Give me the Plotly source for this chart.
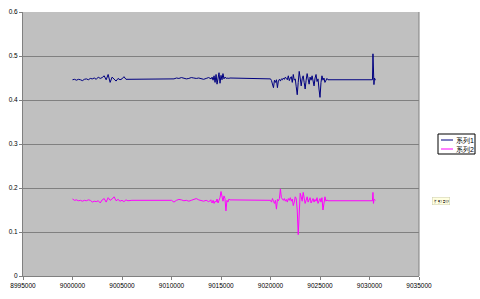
import plotly.graph_objects as go

# Series 1 (系列1)
x1 = ([9000000 + 200 * i for i in range(29)] + [9006000, 9010000]
      + [9010000 + 250 * i for i in range(1, 17)]
      + [9014000 + 100 * i for i in range(20)] + [9020000 - 100]
      + [9020000 + 100 * i for i in range(60)]
      + [9030300, 9030350, 9030400, 9030450, 9030500, 9030600])
y1 = ([0.446, 0.447, 0.445, 0.447, 0.446, 0.444, 0.447, 0.448, 0.446, 0.449,
       0.448, 0.450, 0.447, 0.452, 0.449, 0.451, 0.455, 0.446, 0.458, 0.440,
       0.452, 0.447, 0.443, 0.449, 0.446, 0.448, 0.453, 0.447, 0.447]
      + [0.447, 0.447]
      + [0.448, 0.450, 0.449, 0.451, 0.450, 0.448, 0.449, 0.451, 0.450, 0.449,
         0.450, 0.448, 0.447, 0.449, 0.451, 0.448]
      + [0.448, 0.452, 0.445, 0.455, 0.440, 0.458, 0.436, 0.450, 0.462, 0.438,
         0.456, 0.446, 0.460, 0.448, 0.452, 0.450, 0.449, 0.450, 0.449, 0.450]
      + [0.449]
      + [0.448, 0.444, 0.438, 0.428, 0.445, 0.440, 0.446, 0.428, 0.444, 0.447,
         0.443, 0.448, 0.446, 0.450, 0.447, 0.452, 0.449, 0.446, 0.455, 0.444,
         0.450, 0.453, 0.440, 0.458, 0.445, 0.448, 0.430, 0.412, 0.440, 0.465,
         0.450, 0.432, 0.448, 0.455, 0.440, 0.425, 0.445, 0.460, 0.448, 0.436,
         0.452, 0.445, 0.455, 0.440, 0.432, 0.450, 0.458, 0.442, 0.448, 0.425,
         0.406, 0.440, 0.455, 0.445, 0.450, 0.440, 0.447, 0.449, 0.446, 0.446]
      + [0.446, 0.505, 0.440, 0.435, 0.450, 0.445])

# Series 2 (系列2)
x2 = ([9000000 + 200 * i for i in range(31)] + [9010000]
      + [9010000 + 250 * i for i in range(1, 17)]
      + [9014000 + 100 * i for i in range(20)] + [9020000 - 100]
      + [9020000 + 100 * i for i in range(60)]
      + [9030300, 9030350, 9030400, 9030450, 9030500, 9030600])
y2 = ([0.175, 0.172, 0.173, 0.171, 0.172, 0.170, 0.172, 0.171, 0.173, 0.172,
       0.168, 0.170, 0.169, 0.171, 0.166, 0.173, 0.176, 0.168, 0.178, 0.172,
       0.175, 0.180, 0.171, 0.174, 0.170, 0.172, 0.169, 0.173, 0.171, 0.172, 0.172]
      + [0.172]
      + [0.168, 0.172, 0.174, 0.173, 0.171, 0.172, 0.170, 0.172, 0.174, 0.176,
         0.173, 0.171, 0.170, 0.172, 0.169, 0.173]
      + [0.170, 0.166, 0.172, 0.165, 0.170, 0.168, 0.175, 0.166, 0.172, 0.178,
         0.192, 0.180, 0.170, 0.182, 0.176, 0.148, 0.172, 0.168, 0.175, 0.173]
      + [0.173]
      + [0.172, 0.168, 0.176, 0.170, 0.165, 0.172, 0.152, 0.174, 0.171, 0.176,
         0.198, 0.178, 0.174, 0.172, 0.176, 0.170, 0.174, 0.168, 0.176, 0.172,
         0.178, 0.170, 0.175, 0.160, 0.168, 0.180, 0.176, 0.150, 0.094, 0.160,
         0.188, 0.180, 0.170, 0.190, 0.175, 0.165, 0.172, 0.180, 0.168, 0.175,
         0.178, 0.166, 0.172, 0.176, 0.168, 0.174, 0.170, 0.178, 0.165, 0.172,
         0.176, 0.168, 0.178, 0.150, 0.172, 0.180, 0.170, 0.173, 0.171, 0.171]
      + [0.171, 0.190, 0.165, 0.172, 0.174, 0.172])

x_ticks = [8995000, 9000000, 9005000, 9010000, 9015000, 9020000, 9025000, 9030000, 9035000]
y_ticks = [0, 0.1, 0.2, 0.3, 0.4, 0.5, 0.6]
names = ["系列1", "系列2"]
colors = ["#000080", "#FF00FF"]

fig = go.Figure()
fig.add_trace(go.Scatter(x=x1, y=y1, mode="lines", name=names[0],
                         line=dict(color=colors[0], width=1)))
fig.add_trace(go.Scatter(x=x2, y=y2, mode="lines", name=names[1],
                         line=dict(color=colors[1], width=1)))

# plot area geometry (px) used to place the hand-built legend in paper coords
L, T, W, H = 23, 12, 396, 264
def px(xp):
    return (xp - L) / W
def py(yp):
    return (T + H - yp) / H

shapes = [
    dict(type="line", xref="paper", yref="paper", x0=1, x1=1, y0=0, y1=1,
         line=dict(color="#808080", width=1)),
    dict(type="rect", xref="paper", yref="paper", x0=px(438), x1=px(475),
         y0=py(154), y1=py(134), line=dict(color="#000000", width=1),
         fillcolor="white"),
]
annotations = []
for i, (nm, c) in enumerate(zip(names, colors)):
    yy = 140 + 9 * i
    shapes.append(dict(type="line", xref="paper", yref="paper",
                       x0=px(441), x1=px(453), y0=py(yy), y1=py(yy),
                       line=dict(color=c, width=1)))
    annotations.append(dict(x=px(454), y=py(yy), xref="paper", yref="paper",
                            xanchor="left", yanchor="middle", text=nm,
                            showarrow=False, font=dict(size=7, color="#000000")))
annotations.append(dict(x=px(450), y=py(205), xref="paper", yref="paper",
                        text="ｸﾞﾗﾌ ｴﾘｱ", showarrow=False,
                        font=dict(size=4, color="#333333"),
                        bgcolor="#FFFFE0", bordercolor="#CCCCAA", borderwidth=0.5,
                        borderpad=1))

font = "Liberation Sans, Arial, sans-serif"
fig.update_layout(
    width=480, height=299,
    margin=dict(l=L, r=480 - L - W, t=T, b=299 - T - H, autoexpand=False),
    paper_bgcolor="white", plot_bgcolor="#C0C0C0",
    font=dict(family=font, size=7, color="#000000"),
    showlegend=False,
    xaxis=dict(range=[8995000, 9035000], tickvals=x_ticks,
               ticktext=[str(v) for v in x_ticks],
               showgrid=False, zeroline=False, showline=True,
               linecolor="#808080", linewidth=1, ticks="outside",
               ticklen=3, tickcolor="#808080", tickfont=dict(size=6.5)),
    yaxis=dict(range=[0, 0.6], tickvals=y_ticks,
               ticktext=["0", "0.1", "0.2", "0.3", "0.4", "0.5", "0.6"],
               showgrid=True, gridcolor="#808080", gridwidth=1,
               zeroline=False, showline=True, linecolor="#808080", linewidth=1,
               ticks="outside", ticklen=3, tickcolor="#808080",
               tickfont=dict(size=6.5)),
    shapes=shapes,
    annotations=annotations,
)

fig.write_html("out.html")
